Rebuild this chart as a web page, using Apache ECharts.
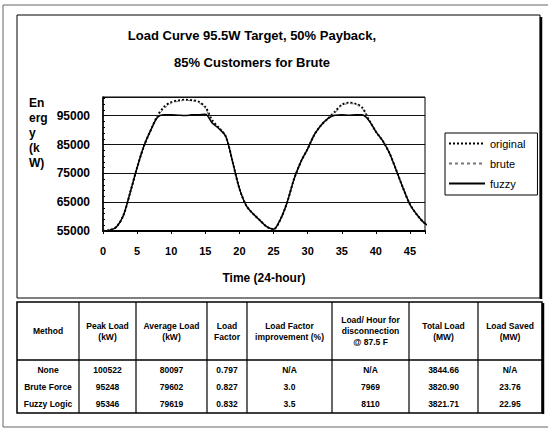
<!DOCTYPE html>
<html>
<head>
<meta charset="utf-8">
<script src="https://cdn.jsdelivr.net/npm/echarts@6/dist/echarts.min.js"></script>
<style>
  html, body { margin: 0; padding: 0; background: #fff; }
  #chart { width: 548px; height: 428px; }
</style>
</head>
<body>
<div id="chart"></div>
<script>
// half-hour samples along the time axis
const hours = [0, 1, 2, 3, 4, 5, 6, 7, 8, 9, 10, 11, 12, 13, 14, 15, 16, 17, 18, 19, 20, 21, 22, 23, 24,
               25, 26, 27, 28, 29, 30, 31, 32, 33, 34, 35, 36, 37, 38, 39, 40, 41, 42, 43, 44, 45, 46, 47, 48];

// load values (kW)
const original = [55000, 55300, 56500, 60500, 68500, 77000, 84500, 90000, 95000, 98200, 99700, 100300, 100522,
                  100400, 99900, 98000, 93500, 90800, 87800, 79000, 69700, 63800, 61000, 58700, 56500,
                  55600, 59000, 65000, 73000, 79000, 83500, 88500, 91800, 94100, 96400, 98800, 99500,
                  99200, 97800, 93500, 89500, 86300, 82000, 76000, 69800, 64200, 60700, 58000, 56400];
const brute = [55000, 55300, 56500, 60500, 68500, 77000, 84500, 90000, 94800, 97500, 99300, 100000, 100300,
               100200, 99600, 97500, 92800, 90600, 87800, 79000, 69700, 63800, 61000, 58700, 56500,
               55600, 59000, 65000, 73000, 79000, 83500, 88500, 91800, 94100, 96000, 98500, 99200,
               99000, 97500, 93300, 89500, 86300, 82000, 76000, 69800, 64200, 60700, 58000, 56400];
const fuzzy = [55000, 55300, 56500, 60500, 68500, 77000, 84500, 90000, 94500, 95300, 95300, 95200, 95100,
               95300, 95346, 95500, 92500, 90500, 87800, 79000, 69700, 63800, 61000, 58700, 56500,
               55600, 59000, 65000, 73000, 79000, 83500, 88500, 91800, 94100, 95200, 95300, 95200,
               95346, 95300, 93300, 89500, 86300, 82000, 76000, 69800, 64200, 60700, 58000, 56400];

const xTicks = [0, 5, 10, 15, 20, 25, 30, 35, 40, 45];
const yTicks = [55000, 65000, 75000, 85000, 95000];

// table below the chart
const tableHeaders = ["Method", "Peak Load\n(kW)", "Average Load\n(kW)", "Load\nFactor",
                      "Load Factor\nimprovement (%)", "Load/ Hour for\ndisconnection\n@ 87.5 F",
                      "Total Load\n(MW)", "Load Saved\n(MW)"];
const methods = ["None", "Brute Force", "Fuzzy Logic"];
const peakLoad = ["100522", "95248", "95346"];
const averageLoad = ["80097", "79602", "79619"];
const loadFactor = ["0.797", "0.827", "0.832"];
const factorImprovement = ["N/A", "3.0", "3.5"];
const hourDisconnect = ["N/A", "7969", "8110"];
const totalLoad = ["3844.66", "3820.90", "3821.71"];
const loadSaved = ["N/A", "23.76", "22.95"];

const chart = echarts.init(document.getElementById("chart"), null, { renderer: "svg" });

const FONT = "Liberation Sans, Arial, sans-serif";
const pairs = (vals) => hours.map((h, i) => [h, vals[i]]);

// table layout
const colEdges = [17, 79, 136, 207, 247, 332, 409, 478, 542];
const tTop = 302, tHead = 360, tBottom = 413;
const rowY = [370, 387, 404];
const tableRows = methods.map((m, i) => [m, peakLoad[i], averageLoad[i], loadFactor[i],
    factorImprovement[i], hourDisconnect[i], totalLoad[i], loadSaved[i]]);

const graphics = [
    // scan frame
    { type: "polyline", shape: { points: [[560, 5], [3, 5], [3, 427], [560, 427]] },
      style: { stroke: "#666", lineWidth: 1, fill: null } },
    // chart area box with shadow
    { type: "rect", shape: { x: 17, y: 15, width: 523, height: 283 },
      style: { stroke: "#000", lineWidth: 1, fill: null } },
    { type: "line", shape: { x1: 541, y1: 17, x2: 541, y2: 299 }, style: { stroke: "#000", lineWidth: 2.5 } },
    // y axis name
    { type: "text", x: 29, y: 95,
      style: { text: "En\nerg\ny\n(k\nW)", font: "bold 12px " + FONT, fill: "#000", lineHeight: 15 } },
    // table frame
    { type: "rect", shape: { x: 17, y: tTop, width: 525, height: tBottom - tTop },
      style: { stroke: "#000", lineWidth: 1.5, fill: null } },
    { type: "line", shape: { x1: 543, y1: tTop + 1, x2: 543, y2: tBottom + 1 }, style: { stroke: "#000", lineWidth: 2.5 } },
    { type: "line", shape: { x1: 17, y1: tHead, x2: 542, y2: tHead }, style: { stroke: "#000", lineWidth: 1.5 } }
];
colEdges.slice(1, -1).forEach((x) => {
    graphics.push({ type: "line", shape: { x1: x, y1: tTop, x2: x, y2: tBottom }, style: { stroke: "#000", lineWidth: 1.2 } });
});
tableHeaders.forEach((h, c) => {
    graphics.push({ type: "text", x: (colEdges[c] + colEdges[c + 1]) / 2, y: (tTop + tHead) / 2,
        style: { text: h, font: "bold 8.5px " + FONT, fill: "#000", lineHeight: 11,
                 textAlign: "center", textVerticalAlign: "middle" } });
});
tableRows.forEach((row, r) => {
    row.forEach((cell, c) => {
        graphics.push({ type: "text", x: (colEdges[c] + colEdges[c + 1]) / 2, y: rowY[r],
            style: { text: cell, font: "bold 8.5px " + FONT, fill: "#000",
                     textAlign: "center", textVerticalAlign: "middle" } });
    });
});

const option = {
    animation: false,
    textStyle: { fontFamily: FONT },
    title: {
        text: "Load Curve 95.5W Target, 50% Payback,\n85% Customers for Brute",
        left: 247, top: 17, textAlign: "center",
        textStyle: { fontSize: 13, fontWeight: "bold", color: "#000", lineHeight: 27 }
    },
    legend: {
        orient: "vertical",
        left: 445, top: 133,
        padding: [5, 12, 6, 3],
        itemWidth: 36, itemHeight: 11, itemGap: 9,
        itemStyle: { opacity: 0 },
        borderColor: "#000", borderWidth: 1,
        textStyle: { fontSize: 11, color: "#000" },
        data: ["original", "brute", "fuzzy"]
    },
    grid: { left: 103, right: 123, top: 97, bottom: 197, show: true, borderColor: "#000", borderWidth: 1 },
    xAxis: {
        type: "value", min: 0, max: 47.2, interval: 5,
        name: "Time (24-hour)", nameLocation: "middle", nameGap: 41,
        nameTextStyle: { fontSize: 12, fontWeight: "bold", color: "#000" },
        axisLine: { lineStyle: { color: "#000", width: 2 } },
        axisTick: { show: true, length: 3, lineStyle: { color: "#000" } },
        splitLine: { show: false },
        axisLabel: { fontSize: 11, fontWeight: "bold", color: "#000", margin: 14,
                     formatter: (v) => xTicks.includes(v) ? String(v) : "" }
    },
    yAxis: {
        type: "value", min: 55000, max: 101500, interval: 10000,
        axisLine: { show: true, lineStyle: { color: "#000", width: 1.5 } },
        axisTick: { show: true, inside: true, length: 4, lineStyle: { color: "#000" } },
        minorTick: { show: true, splitNumber: 5, length: 2, lineStyle: { color: "#000" } },
        splitLine: { lineStyle: { color: "#111", width: 1.2 } },
        axisLabel: { fontSize: 12, fontWeight: "bold", color: "#000", margin: 13,
                     formatter: (v) => yTicks.includes(v) ? String(v) : "" }
    },
    graphic: graphics,
    series: [
        { name: "original", type: "line", data: pairs(original), symbol: "none", smooth: 0.3, clip: false,
          lineStyle: { color: "#000", width: 2, type: [2, 2] }, itemStyle: { color: "#000" } },
        { name: "brute", type: "line", data: pairs(brute), symbol: "none", smooth: 0.3, clip: false,
          lineStyle: { color: "#777", width: 1, type: [3, 3] }, itemStyle: { color: "#777" } },
        { name: "fuzzy", type: "line", data: pairs(fuzzy), symbol: "none", smooth: 0.3, clip: false,
          lineStyle: { color: "#000", width: 1.5 }, itemStyle: { color: "#000" } }
    ]
};

chart.setOption(option);
window.addEventListener("resize", () => chart.resize());
</script>
</body>
</html>
